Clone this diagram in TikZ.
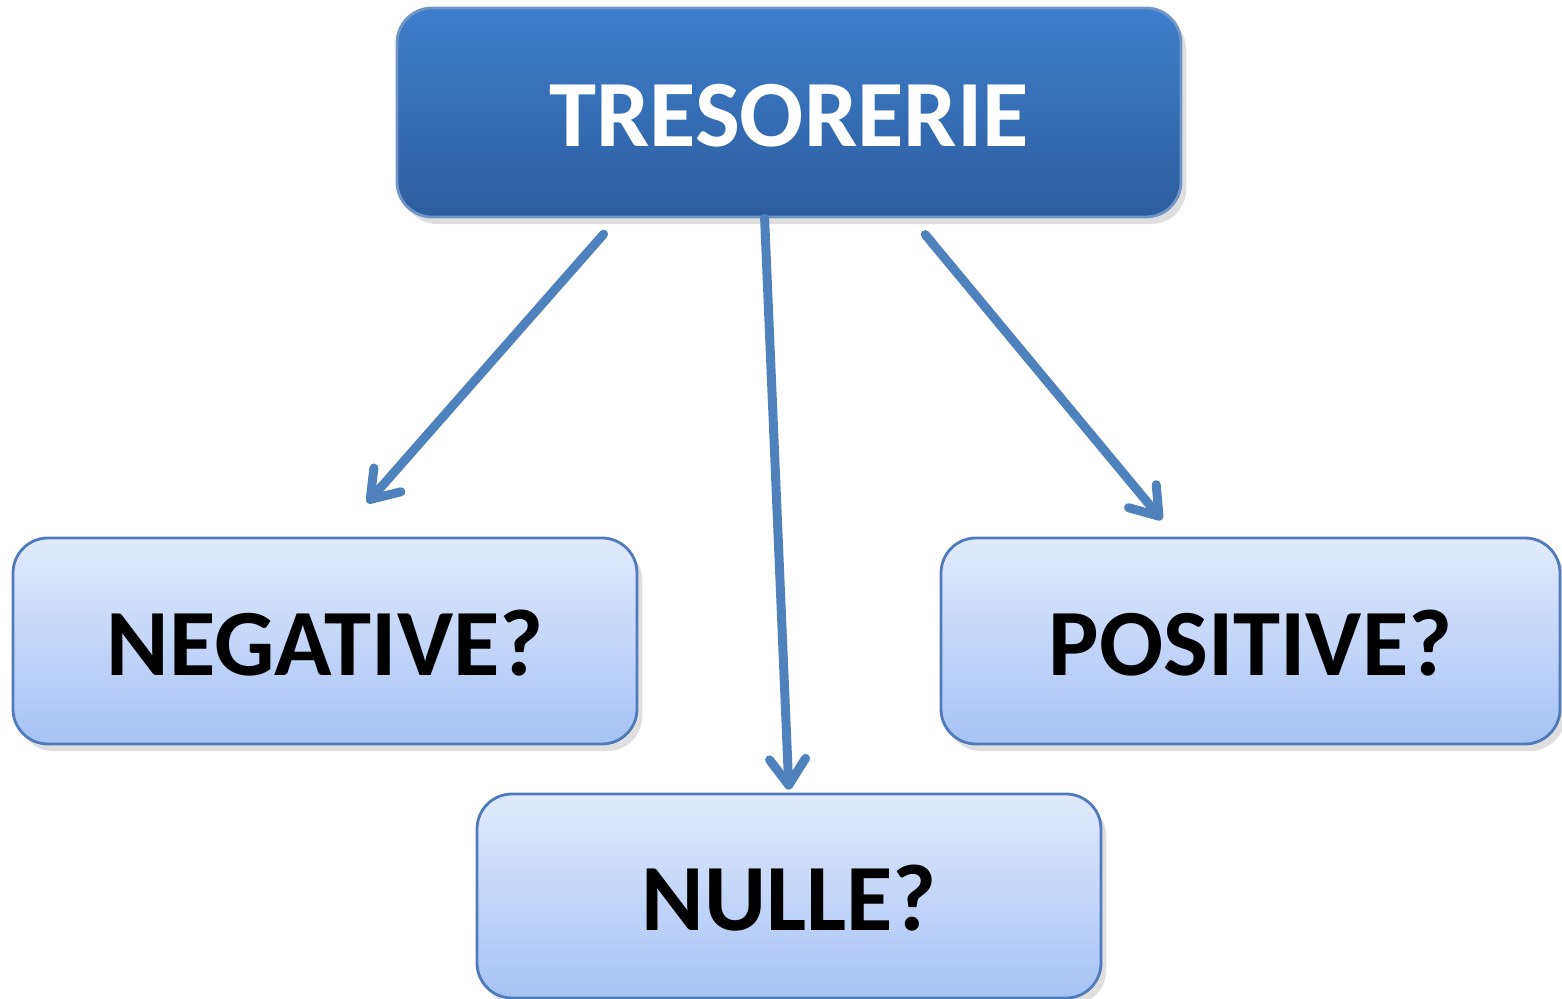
\documentclass[tikz,border=0pt]{standalone}
\usepackage{fontspec}
\setmainfont{Carlito}
\usetikzlibrary{calc,shadows,arrows.meta}
\definecolor{arrowblue}{RGB}{79,129,189}
\definecolor{darktop}{RGB}{62,126,205}
\definecolor{darkbot}{RGB}{44,94,156}
\definecolor{lighttop}{RGB}{224,234,252}
\definecolor{lightbot}{RGB}{166,195,245}
\definecolor{edgeblue}{RGB}{79,123,186}

\begin{document}
\begin{tikzpicture}[
    every node/.style={font=\fontsize{27}{29}\selectfont\bfseries,text height=0.69cm,text depth=0pt},
    mainbox/.style={draw=edgeblue!80,line width=0.8pt,rounded corners=0.35cm,top color=darktop,bottom color=darkbot,
        minimum width=7.84cm,minimum height=2.09cm,inner sep=0pt,text=white,
        drop shadow={opacity=0.25,shadow xshift=1.5pt,shadow yshift=-2pt}},
    casebox/.style={draw=edgeblue,line width=0.8pt,rounded corners=0.35cm,top color=lighttop,bottom color=lightbot,
        minimum width=6.24cm,minimum height=2.06cm,inner sep=0pt,text=black,
        drop shadow={opacity=0.25,shadow xshift=1.5pt,shadow yshift=-2pt}},
    flow/.style={draw=arrowblue,line width=0.09cm,line cap=round,
        -{Straight Barb[length=0.26cm,width=0.36cm,line width=0.09cm,line cap=round,line join=round]}}
]
    \useasboundingbox (0,0) rectangle (15.62,9.99);

    % === Top box ===
    \node[mainbox] (tres) at (7.89,8.865) {TRESORERIE};

    % === The three cases ===
    \node[casebox] (neg) at (3.25,3.58) {NEGATIVE?};
    \node[casebox,minimum width=6.19cm] (pos) at (12.505,3.58) {POSITIVE?};
    \node[casebox,minimum height=2.04cm] (nul) at (7.89,1.03) {NULLE?};

    % === Arrows from top to cases ===
    \draw[flow,shorten <=0.21cm,shorten >=0.45cm] ($(tres.south west)!0.282!(tres.south east)$) -- ($(neg.north west)!0.52!(neg.north east)$);
    \draw[flow,shorten >=0.03cm] ($(tres.south west)!0.469!(tres.south east)$) -- (nul.north);
    \draw[flow,shorten <=0.21cm,shorten >=0.22cm] ($(tres.south west)!0.656!(tres.south east)$) -- ($(pos.north west)!0.38!(pos.north east)$);
\end{tikzpicture}
\end{document}
